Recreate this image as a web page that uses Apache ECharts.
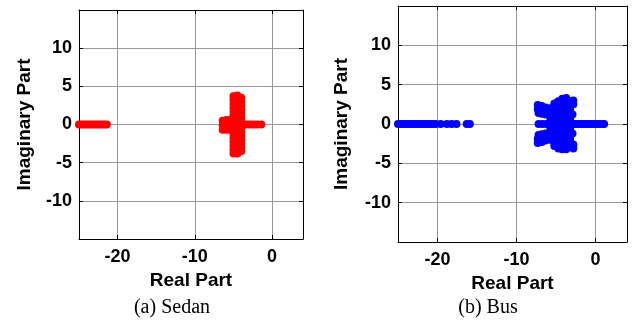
<!DOCTYPE html>
<html>
<head>
<meta charset="utf-8">
<script src="https://cdn.jsdelivr.net/npm/echarts@6/dist/echarts.min.js"></script>
<style>
html, body { margin: 0; padding: 0; background: #fff; }
#main { width: 639px; height: 327px; }
</style>
</head>
<body>
<div id="main"></div>
<script>
// poles: real axis strings (imag = 0)
var sedanRealLine = [-25, -24.7, -24.4, -24.1, -23.8, -23.5, -23.2, -22.9, -22.6, -22.3, -22.0, -21.7, -21.4];
var busRealLine = [-25, -24.7, -24.4, -24.1, -23.8, -23.5, -23.2, -22.9, -22.6, -22.3, -22.0, -21.7, -21.4, -21.1, -20.8, -20.5, -20.2,
    -19.6, -18.8, -18.2, -17.6, -16.3, -15.9];

// the main clusters [real, imag]
var sedanCluster = [
    [-5.0, 3.7], [-5.0, 3.2], [-5.0, 2.7], [-5.0, 2.2], [-5.0, 1.7], [-5.0, 1.2], [-5.0, 0.7], [-5.0, 0.2],
    [-5.0, -0.3], [-5.0, -0.8], [-5.0, -1.3], [-5.0, -1.8], [-5.0, -2.3], [-5.0, -2.8], [-5.0, -3.3], [-5.0, -3.8],
    [-4.5, 3.8], [-4.5, 3.3], [-4.5, 2.8], [-4.5, 2.3], [-4.5, 1.8], [-4.5, 1.3], [-4.5, 0.8], [-4.5, 0.3],
    [-4.5, -0.2], [-4.5, -0.7], [-4.5, -1.2], [-4.5, -1.7], [-4.5, -2.2], [-4.5, -2.7], [-4.5, -3.2], [-4.5, -3.8],
    [-4.0, 3.5], [-4.0, 3.0], [-4.0, 2.5], [-4.0, 2.0], [-4.0, 1.5], [-4.0, 1.0], [-4.0, 0.5], [-4.0, 0],
    [-4.0, -0.5], [-4.0, -1.0], [-4.0, -1.5], [-4.0, -2.0], [-4.0, -2.5], [-4.0, -3.0], [-4.0, -3.5],
    [-6.4, 0.5], [-6.4, -0.1], [-6.4, -0.7], [-5.9, 0.6], [-5.9, 0], [-5.9, -0.7], [-5.4, 0.6], [-5.4, -0.7],
    [-3.5, 0], [-3.1, 0], [-2.7, 0], [-2.3, 0], [-1.9, 0], [-1.4, 0]
];

var busCluster = [
    [-5.7, 2.0], [-5.7, 1.5], [-5.7, 1.0], [-5.7, 0.5], [-5.7, 0], [-5.7, -0.5], [-5.7, -1.0], [-5.7, -1.5], [-5.7, -2.0],
    [-5.2, 2.6], [-5.2, 2.1], [-5.2, 1.6], [-5.2, 1.1], [-5.2, 0.6], [-5.2, 0.1], [-5.2, -0.4], [-5.2, -0.9], [-5.2, -1.4],
    [-5.2, -1.9], [-5.2, -2.4], [-5.2, -2.8],
    [-4.7, 2.9], [-4.7, 2.4], [-4.7, 1.9], [-4.7, 1.4], [-4.7, 0.9], [-4.7, 0.4], [-4.7, -0.1], [-4.7, -0.6], [-4.7, -1.1],
    [-4.7, -1.6], [-4.7, -2.1], [-4.7, -2.6], [-4.7, -3.1],
    [-4.2, 3.2], [-4.2, 2.7], [-4.2, 2.2], [-4.2, 1.7], [-4.2, 1.2], [-4.2, 0.7], [-4.2, 0.2], [-4.2, -0.3], [-4.2, -0.8],
    [-4.2, -1.3], [-4.2, -1.8], [-4.2, -2.3], [-4.2, -2.8], [-4.2, -3.2],
    [-3.7, 3.3], [-3.7, 2.8], [-3.7, 2.3], [-3.7, 1.8], [-3.7, 1.3], [-3.7, 0.8], [-3.7, 0.3], [-3.7, -0.2], [-3.7, -0.7],
    [-3.7, -1.2], [-3.7, -1.7], [-3.7, -2.2], [-3.7, -2.7], [-3.7, -3.2],
    [-3.2, 2.9], [-3.2, 2.4], [-3.2, 1.9], [-3.2, 1.4], [-3.2, 0.9], [-3.2, 0.4], [-3.2, -0.4], [-3.2, -0.9], [-3.2, -1.4],
    [-3.2, -1.9], [-3.2, -2.4], [-3.2, -2.9],
    [-2.8, 3.0], [-2.8, 2.5], [-2.8, -2.6], [-2.8, -3.1], [-2.9, 1.2], [-2.9, -1.2],
    [-7.3, 2.4], [-7.3, 1.9], [-7.2, 1.4], [-6.8, 2.3], [-6.8, 1.7], [-6.8, 1.3], [-6.3, 2.1], [-6.3, 1.6], [-6.3, 1.2],
    [-7.3, -2.4], [-7.3, -1.9], [-7.2, -1.4], [-6.8, -2.3], [-6.8, -1.7], [-6.8, -1.3], [-6.3, -2.1], [-6.3, -1.6], [-6.3, -1.2],
    [-7.2, 0], [-6.7, 0], [-6.2, 0],
    [-2.7, 0], [-2.4, 0], [-2.1, 0], [-1.8, 0], [-1.5, 0], [-1.2, 0], [-0.9, 0], [-0.6, 0], [-0.3, 0], [0, 0],
    [0.3, 0], [0.6, 0], [0.9, 0], [1.1, 0]
];

var realRange = [-25, 4];
var imagRange = [-15, 15];

var nameFont = { fontFamily: 'Liberation Sans', fontWeight: 'bold', fontSize: 19, color: '#000' };
var black = { onZero: false, lineStyle: { color: '#000', width: 1 } };

function xAx(grid, pos, gap) {
    var main = pos === 'bottom';
    return {
        type: 'value', gridIndex: grid, position: pos,
        min: realRange[0], max: realRange[1], splitNumber: 3,
        name: main ? 'Real Part' : '', nameLocation: 'middle', nameGap: gap, nameTextStyle: nameFont,
        axisLine: black,
        axisTick: { inside: true, length: 4, lineStyle: { color: '#000' } },
        axisLabel: { show: main, margin: 9, showMinLabel: false, showMaxLabel: false, fontFamily: 'Liberation Sans',
            fontWeight: 'bold', fontSize: 18, color: '#000' },
        splitLine: { show: main, lineStyle: { color: '#999', width: 1 } }
    };
}

function yAx(grid, pos, gap) {
    var main = pos === 'left';
    return {
        type: 'value', gridIndex: grid, position: pos,
        min: imagRange[0], max: imagRange[1], interval: 5,
        name: main ? 'Imaginary Part' : '', nameLocation: 'middle', nameGap: gap, nameTextStyle: nameFont,
        axisLine: black,
        axisTick: { inside: true, length: 4, lineStyle: { color: '#000' } },
        axisLabel: { show: main, margin: 7, showMinLabel: false, showMaxLabel: false, fontFamily: 'Liberation Sans',
            fontWeight: 'bold', fontSize: 18, color: '#000' },
        splitLine: { show: main, lineStyle: { color: '#999', width: 1 } }
    };
}

function onAxis(xs) {
    return xs.map(function (x) { return [x, 0]; });
}

var myChart = echarts.init(document.getElementById('main'));

var option = {
    animation: false,
    backgroundColor: '#fff',
    grid: [
        { left: 79, top: 10, width: 224, height: 229 },
        { left: 398, top: 6, width: 229, height: 236 }
    ],
    xAxis: [xAx(0, 'bottom', 30), xAx(0, 'top', 0), xAx(1, 'bottom', 31), xAx(1, 'top', 0)],
    yAxis: [yAx(0, 'left', 45), yAx(0, 'right', 0), yAx(1, 'left', 47), yAx(1, 'right', 0)],
    series: [
        { type: 'scatter', xAxisIndex: 0, yAxisIndex: 0, symbolSize: 8, clip: false,
          itemStyle: { color: '#ff0000', opacity: 1 }, data: onAxis(sedanRealLine).concat(sedanCluster) },
        { type: 'scatter', xAxisIndex: 2, yAxisIndex: 2, symbolSize: 8, clip: false,
          itemStyle: { color: '#0000ff', opacity: 1 }, data: onAxis(busRealLine).concat(busCluster) }
    ],
    graphic: [
        { type: 'text', x: 172, y: 308, style: { text: '(a) Sedan', align: 'center', verticalAlign: 'middle',
            fontFamily: 'Liberation Serif', fontSize: 20, fill: '#000' } },
        { type: 'text', x: 488, y: 308, style: { text: '(b) Bus', align: 'center', verticalAlign: 'middle',
            fontFamily: 'Liberation Serif', fontSize: 20, fill: '#000' } }
    ]
};

myChart.setOption(option);
</script>
</body>
</html>
